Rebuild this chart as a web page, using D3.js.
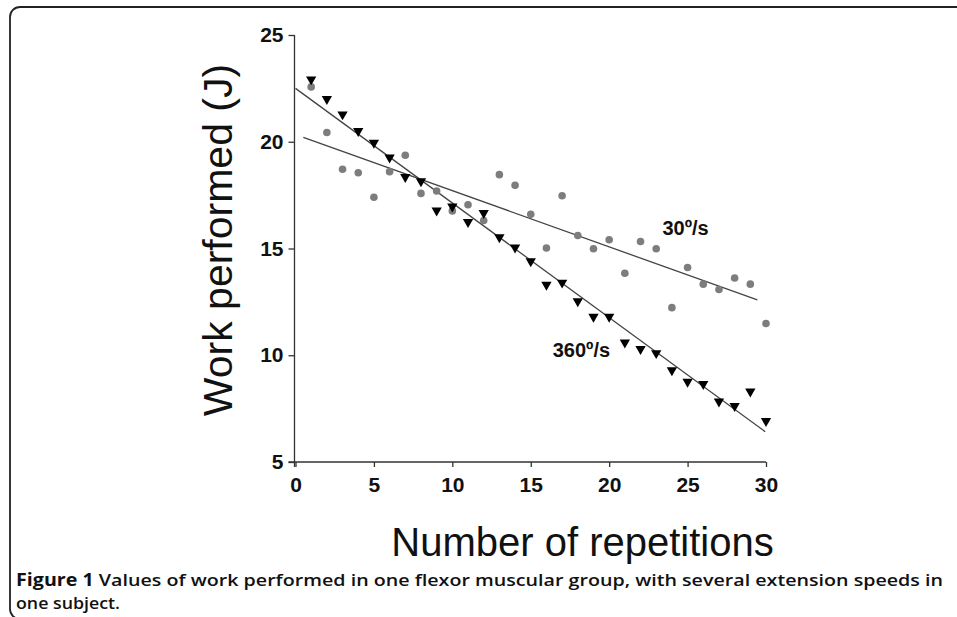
<!DOCTYPE html>
<html>
<head>
<meta charset="utf-8">
<script src="https://cdn.jsdelivr.net/npm/d3@7"></script>
<style>
  html, body { margin: 0; padding: 0; background: #fff; overflow: hidden; }
</style>
</head>
<body>
<div id="root"></div>
<script>
// Data
const reps = [1, 2, 3, 4, 5, 6, 7, 8, 9, 10, 11, 12, 13, 14, 15,
  16, 17, 18, 19, 20, 21, 22, 23, 24, 25, 26, 27, 28, 29, 30];
const work30 = [22.57, 20.43, 18.71, 18.55, 17.4, 18.6, 19.37, 17.58, 17.69, 16.76,
  17.05, 16.31, 18.46, 17.96, 16.6, 15.02, 17.47, 15.61, 14.99, 15.41,
  13.84, 15.33, 14.99, 12.23, 14.11, 13.33, 13.08, 13.62, 13.33, 11.49];
const work360 = [22.92, 22.0, 21.28, 20.5, 19.95, 19.26, 18.35, 18.15, 16.78, 16.97,
  16.24, 16.66, 15.53, 15.05, 14.4, 13.3, 13.4, 12.53, 11.8, 11.8,
  10.6, 10.29, 10.1, 9.3, 8.76, 8.65, 7.83, 7.62, 8.3, 6.92];
// regression line end points [x, y]
const fit30 = [[0.5, 20.21], [29.45, 12.59]];
const fit360 = [[0, 22.5], [29.95, 6.42]];
const xTicks = [0, 5, 10, 15, 20, 25, 30];
const yTicks = [5, 10, 15, 20, 25];

const width = 957;
const height = 617;

const svg = d3.select("#root")
  .append("svg")
  .attr("width", width)
  .attr("height", height);

// frame round the figure
svg.append("rect")
  .attr("x", 10)
  .attr("y", 7)
  .attr("width", 1000)
  .attr("height", 612)
  .attr("rx", 10)
  .attr("fill", "none")
  .attr("stroke", "#222")
  .attr("stroke-width", 1.8);

const x = d3.scaleLinear().domain([0, 30]).range([295.5, 766]);
const y = d3.scaleLinear().domain([5, 25]).range([462, 35]);

// Axes
const xAxis = svg.append("g")
  .attr("transform", `translate(0,${y(5)})`)
  .call(d3.axisBottom(x).tickValues(xTicks).tickSize(5).tickPadding(10).tickSizeOuter(0));
const yAxis = svg.append("g")
  .attr("transform", `translate(${x(0) - 1},0)`)
  .call(d3.axisLeft(y).tickValues(yTicks).tickSize(6).tickPadding(5).tickSizeOuter(0));

[xAxis, yAxis].forEach((a) => {
  a.selectAll("path, line").attr("stroke", "#333").attr("stroke-width", 1.3);
  a.selectAll("text")
    .attr("fill", "#111")
    .attr("font-family", "Liberation Sans, Arial, sans-serif")
    .attr("font-weight", "bold")
    .attr("font-size", 21);
});
xAxis.select(".domain").attr("d", `M${x(0) - 7},0H${x(30)}`);
yAxis.select(".domain").attr("d", `M0,${y(25)}V${y(5) + 5}`);

// Regression lines
const line = d3.line().x((d) => x(d[0])).y((d) => y(d[1]));
svg.selectAll("path.fit")
  .data([fit30, fit360])
  .enter()
  .append("path")
  .attr("class", "fit")
  .attr("d", line)
  .attr("fill", "none")
  .attr("stroke", "#444")
  .attr("stroke-width", 1.3);

// 30 deg/s points
svg.selectAll("circle.p30")
  .data(reps)
  .enter()
  .append("circle")
  .attr("class", "p30")
  .attr("cx", (d) => x(d))
  .attr("cy", (d, i) => y(work30[i]))
  .attr("r", 3.8)
  .attr("fill", "#7d7d7d");

// 360 deg/s points
const tri = d3.symbol().type(d3.symbolTriangle).size(46);
svg.selectAll("path.p360")
  .data(reps)
  .enter()
  .append("path")
  .attr("class", "p360")
  .attr("d", tri)
  .attr("transform", (d, i) => `translate(${x(d)},${y(work360[i])}) rotate(180)`)
  .attr("fill", "#000");

// series labels
svg.append("text")
  .attr("x", x(23.4))
  .attr("y", y(15.63))
  .attr("font-family", "Liberation Sans, Arial, sans-serif")
  .attr("font-weight", "bold")
  .attr("font-size", 20)
  .attr("fill", "#111")
  .text("30º/s");
svg.append("text")
  .attr("x", x(16.4))
  .attr("y", y(9.92))
  .attr("font-family", "Liberation Sans, Arial, sans-serif")
  .attr("font-weight", "bold")
  .attr("font-size", 20)
  .attr("fill", "#111")
  .text("360º/s");

// Axis titles
svg.append("text")
  .attr("x", 582.5)
  .attr("y", 556)
  .attr("text-anchor", "middle")
  .attr("font-family", "Liberation Sans, Arial, sans-serif")
  .attr("font-size", 40)
  .attr("fill", "#111")
  .text("Number of repetitions");
svg.append("text")
  .attr("transform", "translate(232,240) rotate(-90)")
  .attr("text-anchor", "middle")
  .attr("font-family", "Liberation Sans, Arial, sans-serif")
  .attr("font-size", 41)
  .attr("fill", "#111")
  .text("Work performed (J)");

// Caption
const cap = svg.append("text")
  .attr("x", 16)
  .attr("y", 585.5)
  .attr("font-family", "Open Sans, sans-serif")
  .attr("font-size", 17)
  .attr("font-weight", 600)
  .attr("fill", "#111")
  .attr("textLength", 927)
  .attr("lengthAdjust", "spacingAndGlyphs");
cap.append("tspan").attr("font-weight", "bold").text("Figure 1");
cap.append("tspan").text(" Values of work performed in one flexor muscular group, with several extension speeds in");
svg.append("text")
  .attr("x", 16)
  .attr("y", 609)
  .attr("font-family", "Open Sans, sans-serif")
  .attr("font-size", 17)
  .attr("font-weight", 600)
  .attr("fill", "#111")
  .attr("textLength", 104)
  .attr("lengthAdjust", "spacingAndGlyphs")
  .text("one subject.");
</script>
</body>
</html>
